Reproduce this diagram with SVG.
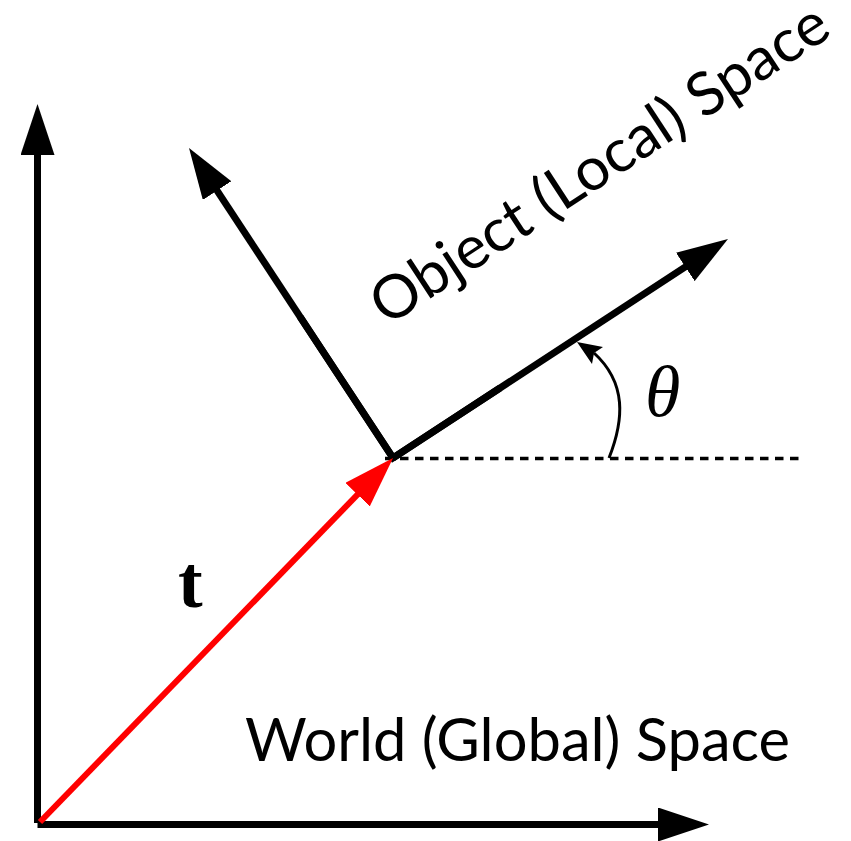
<svg xmlns="http://www.w3.org/2000/svg" width="851" height="841" viewBox="0 0 851 841">
<style>
.ax{stroke:#000;stroke-width:7;fill:none;stroke-linejoin:miter}
.red{stroke:#f00;stroke-width:6;fill:none}
.dash{stroke:#000;stroke-width:3.5;stroke-dasharray:8.5 6.5;fill:none}
.arc{stroke:#000;stroke-width:3;fill:none}
.lbl{font-family:Lato,"DejaVu Sans",sans-serif;font-size:60px;fill:#000}
</style>
<defs>
<marker id="hb" viewBox="0 0 51 34" refX="11" refY="17" markerWidth="51" markerHeight="34" markerUnits="userSpaceOnUse" orient="auto">
<path d="M0,0 L51,17 L0,34 Z" fill="#000"/>
</marker>
<marker id="hr" viewBox="0 0 51 34" refX="11" refY="17" markerWidth="51" markerHeight="34" markerUnits="userSpaceOnUse" orient="auto">
<path d="M0,0 L51,17 L0,34 Z" fill="#f00"/>
</marker>
</defs>
<g id="connectors">
<line id="world-y" class="ax" x1="37.5" y1="823" x2="37.5" y2="144" marker-end="url(#hb)"/>
<line id="world-x" class="ax" x1="37.5" y1="824.5" x2="669" y2="824.5" marker-end="url(#hb)"/>
<line id="dashed" class="dash" x1="385" y1="458.5" x2="805" y2="458.5"/>
<line id="local-y" class="ax" x1="393" y1="458" x2="211" y2="181.4" marker-end="url(#hb)"/>
<line id="local-x" class="ax" x1="393" y1="458" x2="694.5" y2="260.9" marker-end="url(#hb)"/>
<path class="ax" d="M300,316.7 L393,458 L500,388" />
<line id="t-vec" class="red" x1="40" y1="822" x2="365.2" y2="486.7" marker-end="url(#hr)"/>
<path id="theta-arc" class="arc" d="M609,458 C624,420 627,383 594,353"/>
<polygon points="577,342 603,347 594,353 592,364" fill="#000"/>
</g>
<g id="labels">
<text id="t" x="178" y="607" font-family="'Liberation Serif',serif" font-weight="bold" font-size="74">t</text>
<text id="theta" x="645" y="416" font-family="'Liberation Serif',serif" font-style="italic" font-size="72">θ</text>
<text id="world" class="lbl" x="245" y="761" textLength="545" lengthAdjust="spacingAndGlyphs">World (Global) Space</text>
<text id="object" class="lbl" font-size="58" transform="translate(387,327) rotate(-33.2)" textLength="534" lengthAdjust="spacingAndGlyphs">Object (Local) Space</text>
</g>
</svg>
